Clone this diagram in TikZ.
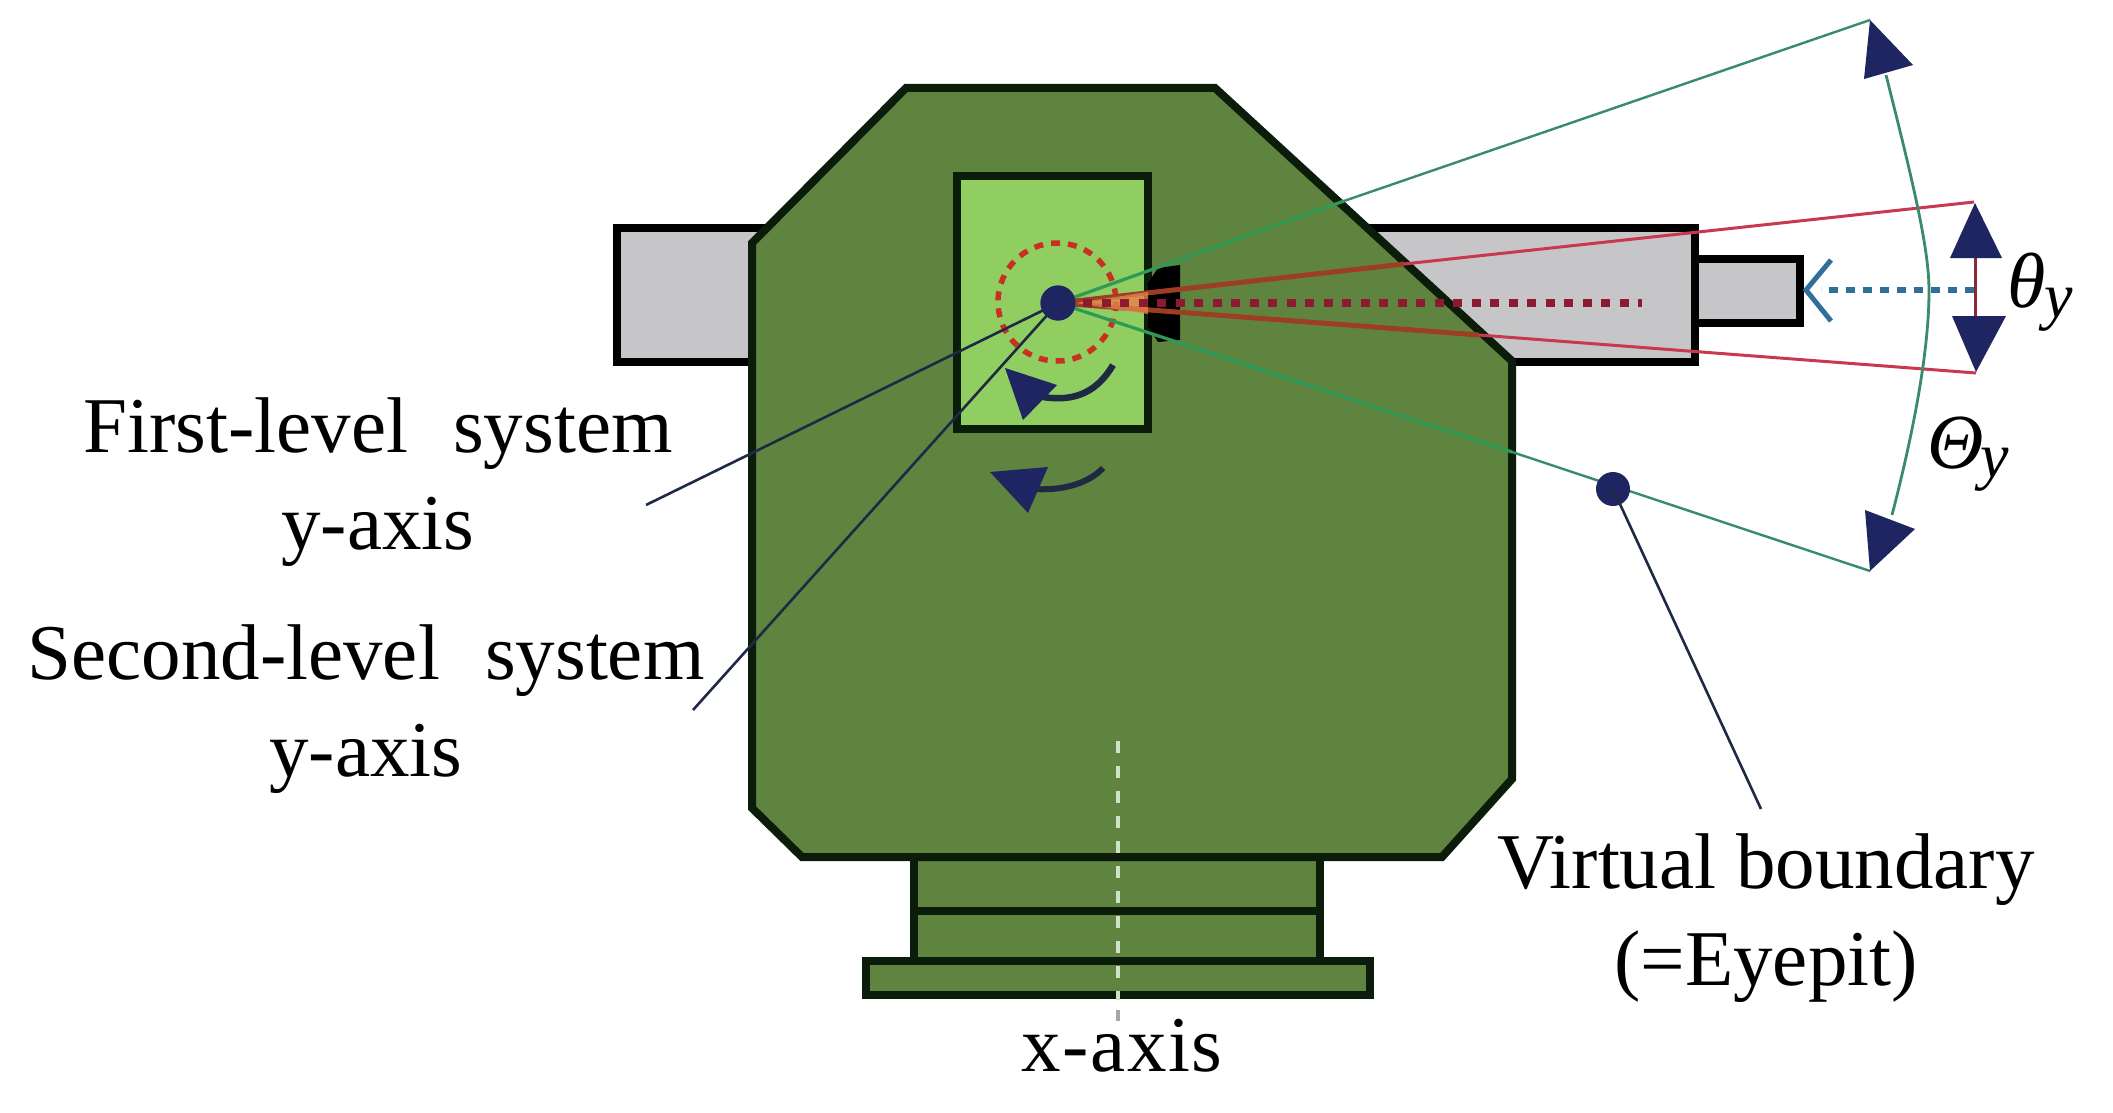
\documentclass[tikz,border=0pt]{standalone}
\usepackage{fontspec}
\setmainfont{Liberation Serif}
\definecolor{bodyg}{HTML}{5F8440}
\definecolor{lightg}{HTML}{90CE62}
\definecolor{edge}{HTML}{0B1C0B}
\definecolor{barg}{HTML}{C6C6C8}
\definecolor{navy}{HTML}{1F2560}
\definecolor{leader}{HTML}{1E2A44}
\definecolor{sight}{HTML}{2E9A55}
\definecolor{sightout}{HTML}{3A8A6E}
\definecolor{redl}{HTML}{C8384E}
\definecolor{brownl}{HTML}{9C3E22}
\definecolor{circr}{HTML}{C8301F}
\definecolor{bluea}{HTML}{2F6F98}
\definecolor{axisc}{HTML}{CFE3C4}
\definecolor{fanc}{HTML}{E8804A}
\definecolor{dotred}{HTML}{8C1A30}
\newcommand{\lab}{\fontsize{79}{97}\selectfont}
\tikzset{
  x=1pt,y=-1pt,
  solidpart/.style={draw=edge,line width=8pt,line join=miter},
  greenpart/.style={solidpart,fill=bodyg},
  graypart/.style={draw=black,fill=barg,line width=8pt},
  sightline/.style={draw=sight,line width=3.2pt},
  sightouter/.style={draw=sightout,line width=2.4pt},
  redline/.style={draw=redl,line width=3pt},
  redinner/.style={draw=brownl,line width=5pt},
  leaderline/.style={draw=leader,line width=2.6pt},
  head/.style={fill=navy,draw=none},
  dotnode/.style={circle,fill=navy,draw=none,inner sep=0pt},
  caption/.style={font=\lab,align=center,inner sep=0pt,text=black},
}
\begin{document}
\begin{tikzpicture}
\useasboundingbox (0,0) rectangle (2113,1113);
\fill[white] (0,0) rectangle (2113,1113);
% named reference points
\coordinate (apexT) at (1870,20);
\coordinate (apexB) at (1870,571);
\coordinate (crossT) at (1344,201);
\coordinate (crossB) at (1512,452);
\coordinate (redT) at (1974,202);
\coordinate (redB) at (1976,373);
\coordinate (redCrossT) at (1404,264);
\coordinate (redCrossB) at (1479,335);
\coordinate (firstEnd) at (646,505);
\coordinate (secondEnd) at (693,710);
\coordinate (vbEnd) at (1761,809);
\coordinate (redEnd) at (1642,303);
\coordinate (blueTip) at (1806,290);
\coordinate (blueStart) at (1974,290);
% gray bars
\draw[graypart] (1695,259) rectangle (1800,323);
\draw[graypart] (617,228) rectangle (790,362);
\draw[graypart] (1300,228) rectangle (1695,362);
% base
\draw[greenpart] (866,961) rectangle (1370,995);
\draw[greenpart] (914,857) rectangle (1320,911);
\draw[greenpart] (914,911) rectangle (1320,961);
% body
\draw[greenpart] (906,88) -- (1215,88) -- (1512,361) -- (1512,779) -- (1442,857) -- (802,857) -- (752,808) -- (752,243) -- cycle;
% inner frame
\draw[solidpart,fill=lightg] (957,176) rectangle (1148,429);
% eyepiece block
\fill[black] (1148,283) -- (1158,268) -- (1180,265) -- (1180,340) -- (1158,342) -- (1148,326) -- cycle;
% x-axis
\draw[draw=axisc,line width=4.5pt,dash pattern=on 12pt off 13pt] (1118,741) -- (1118,1000);
\draw[draw=gray!70,line width=4.5pt] (1118,1010) -- (1118,1021);
% dashed circle
\draw[draw=circr,line width=5.5pt,dash pattern=on 9pt off 8pt] (1057,302) circle[radius=59];
% dot
\node[dotnode,minimum size=35pt] (dot) at (1058,303) {};
% sight lines
\draw[sightline] (dot.center) -- (crossT);
\draw[sightouter] (crossT) -- (apexT);
\draw[sightline] (dot.center) -- (crossB);
\draw[sightouter] (crossB) -- (apexB);
\draw[redinner] (dot.center) -- (redCrossT);
\draw[redline] (redCrossT) -- (redT);
\draw[redinner] (dot.center) -- (redCrossB);
\draw[redline] (redCrossB) -- (redB);
\fill[fanc,opacity=.8] (dot.east) -- (1148,292) -- (1148,314) -- cycle;
\draw[draw=dotred,line width=8pt,dash pattern=on 9pt off 9.5pt] (dot.center) ++(25,0) -- (redEnd);
% leaders
\draw[leaderline] (dot.center) -- (firstEnd);
\draw[leaderline] (dot.center) -- (secondEnd);
\node[dotnode,minimum size=35pt] at (1058,303) {};
% curved arrows
\draw[draw=leader,line width=6.5pt] (1113,365) .. controls (1097,392) and (1075,402) .. (1043,397);
\fill[head] (1005,368) -- (1057,385) -- (1023,420) -- cycle;
\draw[draw=leader,line width=6pt] (1103,468) .. controls (1090,482) and (1065,491) .. (1035,489);
\fill[head] (990,472) -- (1048,467) -- (1028,513) -- cycle;
% arc
\draw[draw=sightout,line width=2.8pt] (1886,75) .. controls (1915,190) and (1929,250) .. (1929,291) .. controls (1929,350) and (1914,430) .. (1892,515);
\fill[head] (1870,20) -- (1913,65) -- (1864,79) -- cycle;
\fill[head] (1870,571) -- (1915,529) -- (1865,510) -- cycle;
% small double arrow
\draw[draw=redl!70!black,line width=3pt] (1975,240) -- (1975,340);
\fill[head] (1975,203) -- (2002,258) -- (1950,258) -- cycle;
\fill[head] (1976,372) -- (2006,316) -- (1952,316) -- cycle;
% blue dashed arrow
\draw[draw=bluea,line width=5.5pt,dash pattern=on 9pt off 8pt] (blueStart) -- (1821,290);
\draw[draw=bluea,line width=5pt] (1831,260) -- (blueTip) -- (1831,321);
% boundary dot and leader
\node[dotnode,minimum size=34pt] (vbdot) at (1613,489) {};
\draw[leaderline] (vbdot.center) -- (vbEnd);
% labels
\node[caption] (t1) at (378,482) {First-level\hspace{.57em}system\\y-axis};
\node[caption] (t2) at (366,709) {Second-level\hspace{.57em}system\\y-axis};
\node[caption] (t3) at (1766,918) {Virtual boundary\\(=Eyepit)};
\node[caption] (t4) at (1122,1046) {\addfontfeatures{LetterSpace=2}x-axis};
\node[caption] (t5) at (2040,292) {\fontsize{78}{80}\selectfont\itshape θ\kern-.02em\raisebox{-.12em}{\fontsize{64}{70}\selectfont y}};
\node[caption] (t6) at (1968,454) {\fontsize{78}{80}\selectfont\itshape Θ\kern-.04em\raisebox{-.12em}{\fontsize{64}{70}\selectfont y}};
\end{tikzpicture}
\end{document}
